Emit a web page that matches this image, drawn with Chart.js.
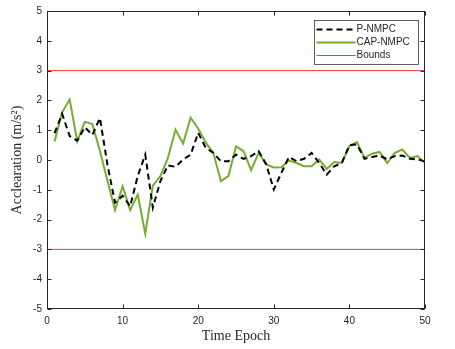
<!DOCTYPE html>
<html>
<head>
<meta charset="utf-8">
<script src="https://cdn.jsdelivr.net/npm/chart.js@4"></script>
<style>
  html, body { margin: 0; padding: 0; background: #fff; }
</style>
</head>
<body>
<canvas id="myChart" width="455" height="349"></canvas>
<script>
// data
const epochs = [1, 2, 3, 4, 5, 6, 7, 8, 9, 10, 11, 12, 13, 14, 15, 16, 17, 18, 19, 20,
  21, 22, 23, 24, 25, 26, 27, 28, 29, 30, 31, 32, 33, 34, 35, 36, 37, 38, 39, 40,
  41, 42, 43, 44, 45, 46, 47, 48, 49, 50];

const pNmpc = [0.9, 1.55, 0.8, 0.65, 1.1, 0.84, 1.41, -0.16, -1.43, -1.2,
  -1.55, -0.54, 0.18, -1.6, -0.71, -0.18, -0.23, 0.02, 0.18, 0.91,
  0.41, 0.24, -0.04, -0.04, 0.18, 0.04, 0.13, 0.3, -0.15, -0.99,
  -0.43, 0.1, -0.04, 0.04, 0.24, -0.1, -0.49, -0.21, -0.1, 0.5,
  0.52, 0.04, 0.1, 0.15, 0.02, 0.13, 0.15, 0.04, 0.02, -0.05];

const capNmpc = [0.62, 1.6, 2.03, 0.63, 1.28, 1.21, 0.3, -0.7, -1.68, -0.88,
  -1.68, -1.16, -2.47, -0.86, -0.54, 0.07, 1.02, 0.55, 1.42, 1.06,
  0.58, 0.24, -0.71, -0.54, 0.46, 0.3, -0.34, 0.24, -0.15, -0.25,
  -0.24, -0.02, -0.1, -0.21, -0.21, 0.02, -0.3, -0.07, -0.1, 0.47,
  0.6, 0.07, 0.21, 0.27, -0.1, 0.24, 0.35, 0.07, 0.13, -0.1];

const boundX = [0, 50];
const boundUpper = [3, 3];
const boundLower = [-3, -3];

const xTicks = [0, 10, 20, 30, 40, 50];
const yTicks = [-5, -4, -3, -2, -1, 0, 1, 2, 3, 4, 5];

function pts(xs, ys) {
  return xs.map((x, i) => ({ x: x, y: ys[i] }));
}

const axisColor = '#262626';
const tickFont = { family: 'Liberation Sans', size: 10 };
const titleFont = { family: 'Liberation Serif', size: 14 };

// MATLAB style box, inward ticks and legend inside the plot
const matlabBox = {
  id: 'matlabBox',
  afterDatasetsDraw(chart) {
    const c = chart.ctx;
    const a = chart.chartArea;
    const xs = chart.scales.x, ys = chart.scales.y;
    const L = Math.round(a.left) + 0.5, R = Math.round(a.right) - 0.5;
    const T = Math.round(a.top) + 0.5, B = Math.round(a.bottom) - 0.5;
    c.save();
    c.strokeStyle = axisColor;
    c.lineWidth = 1;
    c.setLineDash([]);
    c.strokeRect(L, T, R - L, B - T);
    c.beginPath();
    xTicks.forEach(v => {
      const p = Math.round(xs.getPixelForValue(v)) + 0.5;
      c.moveTo(p, B); c.lineTo(p, B - 4);
      c.moveTo(p, T); c.lineTo(p, T + 4);
    });
    yTicks.forEach(v => {
      const p = Math.round(ys.getPixelForValue(v)) + 0.5;
      c.moveTo(L, p); c.lineTo(L + 4, p);
      c.moveTo(R, p); c.lineTo(R - 4, p);
    });
    c.stroke();

    // legend
    const bw = 104, bh = 44;
    const bx = Math.round(a.right - 7 - bw) + 0.5;
    const by = Math.round(a.top + 9) + 0.5;
    c.fillStyle = '#fff';
    c.fillRect(bx, by, bw, bh);
    c.strokeStyle = axisColor;
    c.lineWidth = 0.75;
    c.strokeRect(bx, by, bw, bh);
    c.font = '10px "Liberation Sans"';
    c.textBaseline = 'middle';
    c.textAlign = 'left';
    chart.data.datasets.forEach((ds, i) => {
      if (ds.hideLegend) return;
      const yy = by + 9 + i * 13;
      c.beginPath();
      c.strokeStyle = ds.borderColor;
      c.lineWidth = ds.borderWidth;
      c.setLineDash(ds.borderDash || []);
      c.moveTo(bx + 2, yy);
      c.lineTo(bx + 41, yy);
      c.stroke();
      c.setLineDash([]);
      c.fillStyle = axisColor;
      c.fillText(ds.label, bx + 42, yy);
    });
    c.restore();
  }
};

const ctx = document.getElementById('myChart');

new Chart(ctx, {
  type: 'line',
  data: {
    datasets: [{
      label: 'P-NMPC',
      data: pts(epochs, pNmpc),
      borderColor: '#000000',
      borderWidth: 2,
      borderDash: [6, 4],
      pointRadius: 0,
      tension: 0
    }, {
      label: 'CAP-NMPC',
      data: pts(epochs, capNmpc),
      borderColor: '#77AC30',
      borderWidth: 2,
      pointRadius: 0,
      tension: 0
    }, {
      label: 'Bounds',
      data: pts(boundX, boundUpper),
      borderColor: '#F03C3C',
      borderWidth: 1,
      pointRadius: 0
    }, {
      label: 'Bounds',
      hideLegend: true,
      data: pts(boundX, boundLower),
      borderColor: '#F03C3C',
      borderWidth: 1,
      pointRadius: 0
    }]
  },
  options: {
    responsive: false,
    animation: false,
    events: [],
    layout: { padding: { top: 11, right: 30, left: 0, bottom: 0 } },
    plugins: {
      legend: { display: false },
      tooltip: { enabled: false }
    },
    scales: {
      x: {
        type: 'linear',
        min: 0,
        max: 50,
        afterBuildTicks: s => { s.ticks = xTicks.map(v => ({ value: v })); },
        afterFit: s => { s.height = 40; },
        grid: { display: false, drawTicks: false },
        border: { display: false },
        ticks: { color: axisColor, font: tickFont, padding: 6, maxRotation: 0 },
        title: {
          display: true,
          text: 'Time Epoch',
          color: axisColor,
          font: titleFont,
          padding: { top: 0, bottom: 4 }
        }
      },
      y: {
        type: 'linear',
        min: -5,
        max: 5,
        afterBuildTicks: s => { s.ticks = yTicks.map(v => ({ value: v })); },
        afterFit: s => { s.width = 47; },
        grid: { display: false, drawTicks: false },
        border: { display: false },
        ticks: { color: axisColor, font: tickFont, padding: 5 },
        title: {
          display: true,
          text: 'Acclearation (m/s²)',
          color: axisColor,
          font: titleFont,
          padding: { top: 9, bottom: 0 }
        }
      }
    }
  },
  plugins: [matlabBox]
});
</script>
</body>
</html>
